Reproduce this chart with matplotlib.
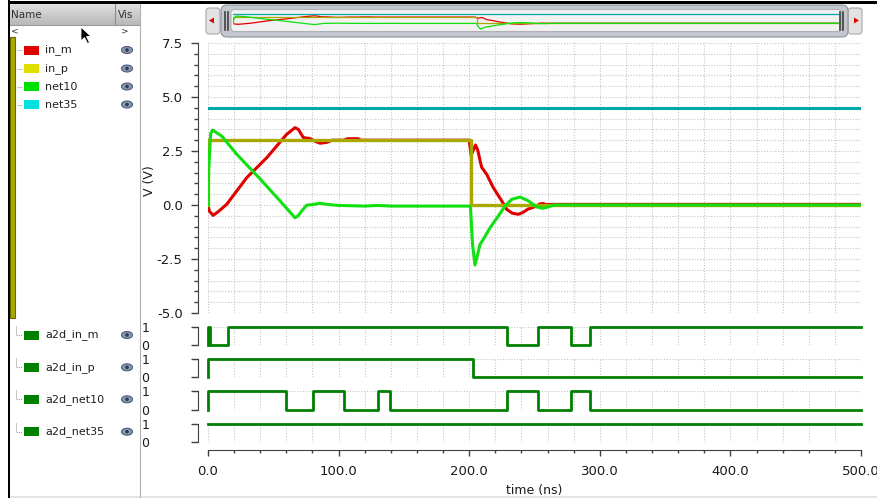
import numpy as np
import matplotlib.pyplot as plt
from matplotlib.patches import Rectangle, FancyBboxPatch, Ellipse, Circle, Polygon
from matplotlib.ticker import MultipleLocator, FormatStrFormatter

plt.rcParams['font.family'] = ['DejaVu Sans']
plt.rcParams['axes.unicode_minus'] = False

# analog waveforms (time in ns, volts)
t_in_m = [0, 1, 3.9, 8, 14.3, 29.6, 45, 60.2, 66.6, 69.2, 73, 78, 82, 85.8, 90.9,
          95, 104, 107, 115, 117, 200, 201.5, 204.8, 206.5, 209.5, 213.4, 218.5, 224.9,
          228.7, 233, 237.6, 241, 245, 251.7, 254, 256.5, 259, 265, 500]
v_in_m = [0, -0.28, -0.48, -0.3, 0.03, 1.26, 2.19, 3.27, 3.58, 3.5, 3.12, 3.08, 2.95,
          2.86, 2.9, 3.0, 3.0, 3.07, 3.07, 3.0, 3.0, 2.3, 2.78, 2.55, 1.75, 1.42, 0.8,
          0.19, -0.2, -0.38, -0.43, -0.35, -0.19, -0.05, 0.05, 0.07, 0.02, 0.03, 0.03]

t_in_p = [0, 0, 201, 201, 500]
v_in_p = [0, 3.0, 3.0, 0, 0]

t_net10 = [0, 0.5, 2, 3.5, 10.5, 22, 40, 55, 66.6, 69, 71.7, 75.5, 80, 85.8, 90.9,
           100, 120, 130, 140, 200, 201, 202.5, 204.4, 206, 208.3, 210.8, 216, 222.3,
           227.4, 232.5, 238.9, 245.3, 251.7, 256, 260, 265, 500]
v_net10 = [0, 1.6, 3.3, 3.47, 3.19, 2.35, 1.2, 0.2, -0.59, -0.5, -0.28, -0.01, 0.02,
           0.08, 0.03, -0.02, -0.05, -0.02, -0.05, -0.05, -0.1, -1.8, -2.78, -2.4,
           -1.82, -1.59, -1.05, -0.51, -0.05, 0.26, 0.37, 0.19, -0.09, -0.15, -0.1,
           0.0, 0.0]

t_net35 = [0, 500]
v_net35 = [4.47, 4.47]

# digital waveforms (steps-post)
t_a2d_in_m = [0, 0, 1.5, 15, 228.7, 252.4, 277.7, 292.5, 500]
v_a2d_in_m = [0, 1, 0, 1, 0, 1, 0, 1, 1]
t_a2d_in_p = [0, 0, 202.6, 500]
v_a2d_in_p = [0, 1, 0, 0]
t_a2d_net10 = [0, 0, 59.7, 80.1, 104.1, 129.9, 139.4, 228.7, 252.4, 277.7, 292.5, 500]
v_a2d_net10 = [0, 1, 0, 1, 0, 1, 0, 1, 0, 1, 0, 0]
t_a2d_net35 = [0, 500]
v_a2d_net35 = [1, 1]

analog_names = ['in_m', 'in_p', 'net10', 'net35']
analog_swatch = ['#E00000', '#E0E000', '#00E000', '#00E0E0']
digital_names = ['a2d_in_m', 'a2d_in_p', 'a2d_net10', 'a2d_net35']
x_ticklabels = ['0.0', '100.0', '200.0', '300.0', '400.0', '500.0']

W, H = 877, 498
fig = plt.figure(figsize=(W / 100, H / 100), dpi=100)
fig.patch.set_facecolor('white')


def px_box(x0, y0, x1, y1):
    return [x0 / W, 1 - y1 / H, (x1 - x0) / W, (y1 - y0) / H]


"""Window chrome: signal list on the left and overview bar at the top"""
ui = fig.add_axes([0, 0, 1, 1])
ui.set_zorder(-1)
ui.axis('off')

ui.add_patch(Rectangle((8, 0.5), W - 8, 3, color='black', lw=0))
ui.add_patch(Rectangle((7.5, 0), 2, H, color='black', lw=0))
ui.imshow(np.linspace(0.88, 0.72, 24).reshape(-1, 1), extent=(9.5, 140, 25, 3.5),
          cmap='gray', vmin=0, vmax=1, aspect='auto', origin='upper')
ui.plot([115, 115], [3.5, 25], color='#8C8C8C', lw=0.8)
ui.plot([9.5, 140], [25, 25], color='#9A9A9A', lw=0.8)
ui.plot([140, 140], [3.5, H], color='#B0B0B0', lw=0.8)
ui.add_patch(Rectangle((9.5, 496), W, 2, color='#E4E4E4', lw=0))
ui.text(11, 14.5, 'Name', fontsize=7.5, color='#303030', va='center')
ui.text(117.5, 14.5, 'Vis', fontsize=7.5, color='#303030', va='center')
ui.text(11, 31, '<', fontsize=6.5, color='#303030', va='center')
ui.text(121, 31, '>', fontsize=6.5, color='#303030', va='center')

ui.add_patch(Rectangle((10, 37), 5, 281, facecolor='#A8A800', edgecolor='#6A6A00', lw=0.8))

# mouse pointer
ui.add_patch(Polygon([(81, 27), (81, 41), (84.5, 37.5), (87.5, 43.5), (89.5, 42.5),
                      (86.5, 36.5), (91, 36.5)], closed=True, facecolor='black',
                     edgecolor='white', lw=0.6))


def eye(x, y):
    ui.add_patch(Ellipse((x, y), 11, 7, facecolor='#8A98B4', edgecolor='#4E5C7A', lw=0.8))
    ui.add_patch(Circle((x, y), 1.8, facecolor='#2E3A56', lw=0))


row_y = [50, 68.5, 86.5, 104.5]
for name, col, y in zip(analog_names, analog_swatch, row_y):
    ui.plot([17, 22], [y, y], color='#909090', lw=0.7, ls=(0, (1, 1)))
    ui.add_patch(Rectangle((24, y - 4.5), 15, 9, color=col, lw=0))
    ui.text(45, y, name, fontsize=8, color='#202020', va='center')
    eye(127, y)

drow_y = [335, 367.3, 399.3, 431.7]
for name, y in zip(digital_names, drow_y):
    ui.plot([16, 16, 22], [y - 9, y, y], color='#909090', lw=0.7, ls=(0, (1, 1)))
    ui.add_patch(Rectangle((24, y - 4.5), 15, 9, color='#008000', lw=0))
    ui.text(45, y, name, fontsize=8, color='#202020', va='center')
    eye(127, y)

# overview bar
ui.add_patch(FancyBboxPatch((206, 8), 14, 26, boxstyle='round,pad=0,rounding_size=3',
                            facecolor='#E2E2E2', edgecolor='#A8A8A8', lw=0.8))
ui.add_patch(FancyBboxPatch((848, 8), 14, 26, boxstyle='round,pad=0,rounding_size=3',
                            facecolor='#E2E2E2', edgecolor='#A8A8A8', lw=0.8))
ui.add_patch(Polygon([(209, 20.5), (214, 17.5), (214, 23.5)], color='#E00000', lw=0))
ui.add_patch(Polygon([(859, 20.5), (854, 17.5), (854, 23.5)], color='#E00000', lw=0))
ui.add_patch(FancyBboxPatch((221, 5), 627, 32, boxstyle='round,pad=0,rounding_size=6',
                            facecolor='#C4C8CE', edgecolor='#8A929E', lw=0.8))
ui.add_patch(FancyBboxPatch((231, 9.5), 610, 22, boxstyle='round,pad=0,rounding_size=3',
                            facecolor='#F2F2F2', edgecolor='#AEB2B8', lw=0.8))
for xb in (225, 228, 840, 843):
    ui.plot([xb, xb], [12, 30], color='#404040', lw=1.2)

ui.set_xlim(0, W)
ui.set_ylim(H, 0)

mini = fig.add_axes(px_box(233, 10, 839, 31))
mini.axis('off')
mini.plot(t_net35, v_net35, color='#00A8A8', lw=0.9)
mini.plot(t_in_m, v_in_m, color='#E00000', lw=0.9)
mini.plot(t_in_p, v_in_p, color='#A8A800', lw=0.9)
mini.plot(t_net10, v_net10, color='#10E010', lw=0.9)
mini.set_xlim(0, 500)
mini.set_ylim(-3.7, 6.4)

"""Analog panel"""
grid_kw = dict(color='#C4C4C4', lw=0.8, ls=(0, (1, 1.5)))
tick_col = '#1A1A1A'

ax = fig.add_axes(px_box(208, 43, 861, 313))
ax.plot(t_net35, v_net35, color='#00A8A8', lw=2.2)
ax.plot(t_in_m, v_in_m, color='#E00000', lw=2.2)
ax.plot(t_in_p, v_in_p, color='#A8A800', lw=2.4)
ax.plot(t_net10, v_net10, color='#10E010', lw=2.2)
ax.set_xlim(0, 500)
ax.set_ylim(-5, 7.5)
ax.yaxis.set_major_locator(MultipleLocator(2.5))
ax.yaxis.set_minor_locator(MultipleLocator(0.5))
ax.yaxis.set_major_formatter(FormatStrFormatter('%.1f'))
ax.xaxis.set_major_locator(MultipleLocator(20))
ax.tick_params(axis='x', length=0, labelbottom=False)
ax.tick_params(axis='y', which='major', length=5, width=1, color='#404040',
               labelsize=9.5, labelcolor=tick_col, pad=6)
ax.tick_params(axis='y', which='minor', length=3.2, width=1, color='#404040')
ax.grid(True, axis='y', which='both', **grid_kw)
ax.grid(True, axis='x', which='major', **grid_kw)
for s in ('top', 'right', 'bottom'):
    ax.spines[s].set_visible(False)
ax.spines['left'].set_position(('outward', 7.2))
ax.spines['left'].set_color('#404040')
ax.set_ylabel('V (V)', fontsize=9, color=tick_col)
ax.yaxis.set_label_coords(-0.08, 0.49)

"""Digital panels"""
dig_t = [t_a2d_in_m, t_a2d_in_p, t_a2d_net10, t_a2d_net35]
dig_v = [v_a2d_in_m, v_a2d_in_p, v_a2d_net10, v_a2d_net35]
for i in range(4):
    top = 326.7 + 32.4 * i
    dax = fig.add_axes(px_box(208, top, 861, top + 18.3))
    dax.plot(dig_t[i], dig_v[i], drawstyle='steps-post', color='#008000', lw=2.0,
             clip_on=False)
    dax.set_xlim(0, 500)
    dax.set_ylim(0, 1)
    dax.set_yticks([0, 1])
    dax.set_yticklabels(['0', '1'])
    dax.xaxis.set_major_locator(MultipleLocator(100))
    dax.xaxis.set_minor_locator(MultipleLocator(20))
    dax.tick_params(axis='y', length=5, width=1, color='#404040', labelsize=9,
                    labelcolor=tick_col, pad=30)
    dax.grid(True, axis='y', **grid_kw)
    dax.grid(True, axis='x', which='both', **grid_kw)
    for s in ('top', 'right'):
        dax.spines[s].set_visible(False)
    dax.spines['left'].set_position(('outward', 7.2))
    dax.spines['left'].set_color('#404040')
    if i < 3:
        dax.spines['bottom'].set_visible(False)
        dax.tick_params(axis='x', which='both', length=0, labelbottom=False)
    else:
        dax.spines['bottom'].set_position(('outward', 5.4))
        dax.spines['bottom'].set_color('#404040')
        dax.set_xticks([0, 100, 200, 300, 400, 500])
        dax.set_xticklabels(x_ticklabels)
        dax.tick_params(axis='x', which='major', length=4, width=1, color='#404040',
                        labelsize=9.5, labelcolor=tick_col, pad=7)
        dax.tick_params(axis='x', which='minor', length=2.5, width=1, color='#404040')
        dax.set_xlabel('time (ns)', fontsize=9, color=tick_col)
        dax.xaxis.set_label_coords(0.5, -2.3)

fig.savefig('out.png', dpi=100, facecolor='white')
